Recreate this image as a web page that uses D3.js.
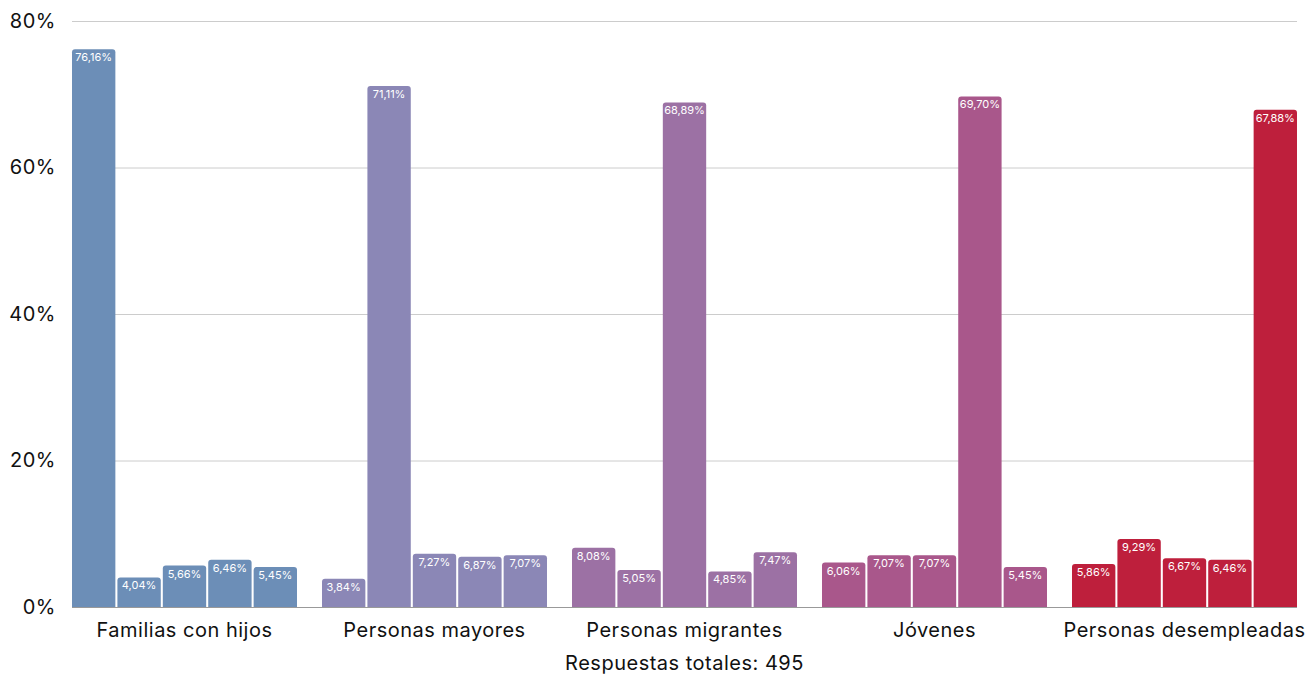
<!DOCTYPE html>
<html><head><meta charset="utf-8">
<script src="https://cdn.jsdelivr.net/npm/d3@7"></script>
<style>
html,body{margin:0;padding:0;background:#fff;}
svg{display:block;font-family:Inter, "Open Sans", sans-serif;}
</style></head>
<body><svg id="c" width="1308" height="675"></svg>
<script>
const groups = ["Familias con hijos","Personas mayores","Personas migrantes","Jóvenes","Personas desempleadas"];
const familias = [76.16, 4.04, 5.66, 6.46, 5.45];
const mayores = [3.84, 71.11, 7.27, 6.87, 7.07];
const migrantes = [8.08, 5.05, 68.89, 4.85, 7.47];
const jovenes = [6.06, 7.07, 7.07, 69.70, 5.45];
const desempleadas = [5.86, 9.29, 6.67, 6.46, 67.88];
const colors = ["#6c8eb7","#8b87b6","#9c71a4","#a9578b","#be1f3c"];
const yTicks = [0,20,40,60,80];
const xTitle = "Respuestas totales: 495";

(function(){
const values = [familias, mayores, migrantes, jovenes, desempleadas];
const svg = d3.select("#c");
const mL = 72, mR = 1297, mT = 21, mB = 607;

const x0 = d3.scaleBand().domain(groups).range([mL, mR]).paddingInner(0.1).paddingOuter(0);
const x1 = d3.scaleBand().domain(d3.range(5)).range([0, x0.bandwidth()]).paddingInner(0.045).paddingOuter(0);
const y = d3.scaleLinear().domain([0,80]).range([mB, mT]);

const yAxis = d3.axisLeft(y).tickValues(yTicks).tickSize(0).tickFormat(d => d + "%");
const ga = svg.append("g").attr("transform", `translate(${mL},0)`).call(yAxis);
ga.select(".domain").remove();
ga.selectAll("text").attr("x", -16).attr("dy", "0.32em").style("font-size","20px").style("letter-spacing","0.5px").style("fill","#111").style("font-family","Inter, sans-serif");
svg.append("g").selectAll("line").data(yTicks.filter(d=>d>0)).join("line")
  .attr("x1", mL).attr("x2", mR).attr("y1", d=>y(d)+0.5).attr("y2", d=>y(d)+0.5)
  .attr("stroke","#cccccc").attr("stroke-width",1);
svg.append("line").attr("x1",mL).attr("x2",mR).attr("y1",y(0)+0.5).attr("y2",y(0)+0.5)
  .attr("stroke","#999").attr("stroke-width",1);

const r = 3;
function barPath(x, yTop, w, h){
  const rr = Math.min(r, h, w/2);
  return `M${x},${yTop+h}V${yTop+rr}Q${x},${yTop} ${x+rr},${yTop}H${x+w-rr}Q${x+w},${yTop} ${x+w},${yTop+rr}V${yTop+h}Z`;
}
const gg = svg.append("g").selectAll("g").data(groups).join("g")
  .attr("transform", d => `translate(${x0(d)},0)`);
gg.each(function(g, gi){
  const sel = d3.select(this);
  const data = values[gi].map((v,i)=>({v,i}));
  sel.selectAll("path").data(data).join("path")
    .attr("d", d => barPath(x1(d.i), y(d.v), x1.bandwidth(), y(0)-y(d.v)))
    .attr("fill", colors[gi]);
  sel.selectAll("text").data(data).join("text")
    .attr("x", d => x1(d.i) + x1.bandwidth()/2)
    .attr("y", d => y(d.v) + 12)
    .attr("text-anchor","middle")
    .style("font-size","11px").style("fill","#fff")
    .text(d => d.v.toFixed(2).replace(".", ",") + "%");
});

const xAxis = d3.axisBottom(x0).tickSize(0);
const gx = svg.append("g").attr("transform", `translate(0,${mB})`).call(xAxis);
gx.select(".domain").remove();
gx.selectAll("text").attr("dy", "0").attr("y", 30).style("font-size","20px").style("letter-spacing","0.5px").style("fill","#111").style("font-family","Inter, sans-serif");

svg.append("text").attr("x", (mL+mR)/2).attr("y", 670).attr("text-anchor","middle")
  .style("font-size","20px").style("letter-spacing","0.5px").style("fill","#111").text(xTitle);
})();
</script></body></html>
